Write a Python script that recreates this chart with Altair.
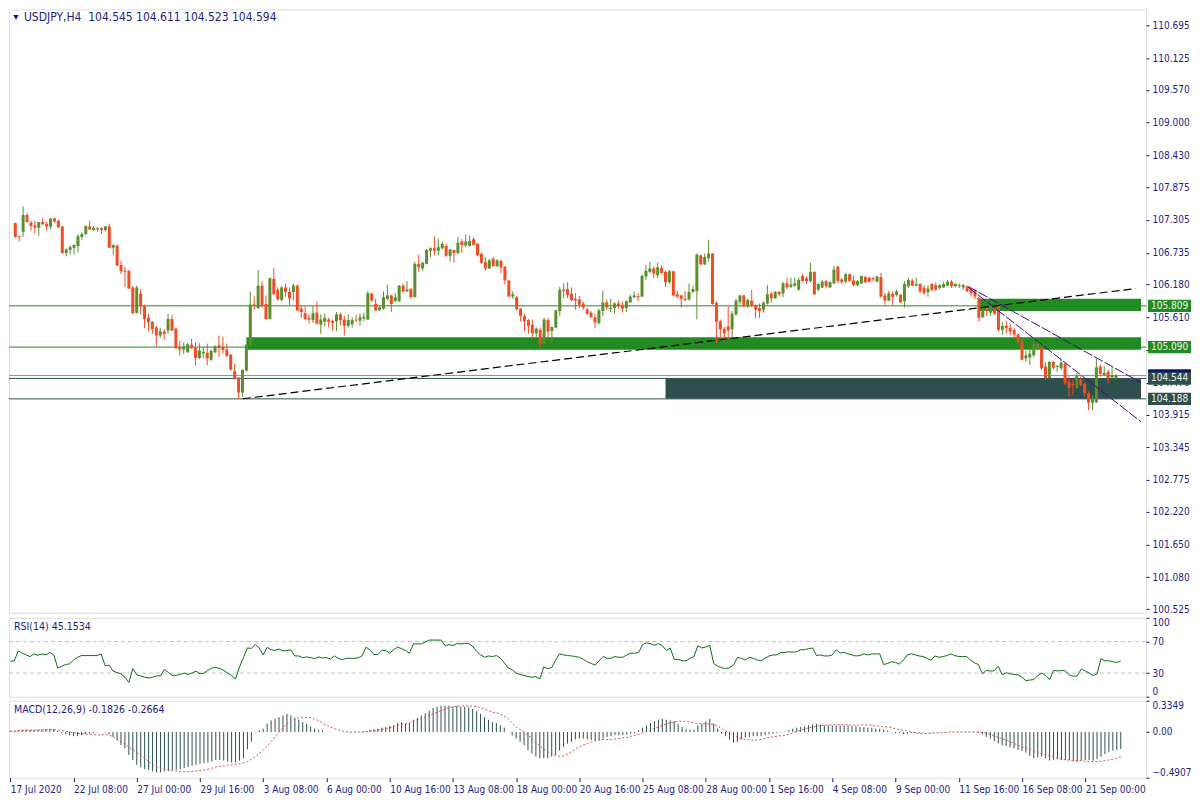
import altair as alt
import pandas as pd
import json

# ---------------- data ----------------
opens = [
 107.25, 107.03, 107.10, 107.39, 107.26, 107.21, 107.17, 107.27, 107.24, 107.19,
 107.33, 107.29, 107.19, 106.73, 106.78, 106.82, 106.85, 107.01, 107.06, 107.19,
 107.13, 107.15, 107.16, 107.13, 107.19, 106.82, 106.86, 106.52, 106.42, 106.42,
 106.13, 105.69, 106.02, 105.80, 105.60, 105.53, 105.43, 105.29, 105.36, 105.38,
 105.58, 105.41, 105.09, 105.05, 105.00, 105.13, 105.08, 104.90, 104.98, 104.99,
 104.87, 105.00, 105.12, 105.09, 105.05, 104.96, 104.67, 104.56, 104.30, 104.68,
 105.12, 105.83, 105.77, 106.16, 105.84, 105.58, 106.28, 106.09, 105.91, 106.13,
 106.05, 106.05, 106.16, 105.76, 105.68, 105.60, 105.56, 105.69, 105.48, 105.53,
 105.57, 105.54, 105.54, 105.66, 105.57, 105.46, 105.49, 105.57, 105.55, 105.59,
 105.57, 106.02, 105.84, 105.73, 105.76, 105.93, 105.99, 105.89, 105.89, 106.16,
 106.06, 106.10, 105.96, 106.54, 106.46, 106.54, 106.77, 106.81, 106.77, 106.81,
 106.85, 106.68, 106.78, 106.73, 106.93, 106.86, 106.85, 106.97, 106.89, 106.71,
 106.57, 106.46, 106.63, 106.50, 106.59, 106.49, 106.25, 105.97, 105.96, 105.76,
 105.63, 105.56, 105.48, 105.33, 105.39, 105.15, 105.56, 105.37, 105.43, 105.72,
 106.09, 106.10, 106.02, 105.93, 105.92, 105.85, 105.75, 105.69, 105.61, 105.51,
 105.72, 105.87, 105.76, 105.77, 105.85, 105.82, 105.77, 105.87, 105.96, 105.98,
 105.97, 106.32, 106.40, 106.46, 106.34, 106.47, 106.40, 106.22, 106.41, 106.01,
 105.99, 105.93, 105.92, 106.05, 106.07, 106.69, 106.53, 106.64, 106.72, 105.86,
 105.54, 105.41, 105.45, 105.40, 105.66, 105.88, 105.99, 105.80, 105.90, 105.82,
 105.77, 105.74, 105.85, 106.02, 105.94, 106.05, 106.02, 106.20, 106.14, 106.16,
 106.09, 106.33, 106.29, 106.24, 106.40, 106.09, 106.13, 106.24, 106.13, 106.20,
 106.49, 106.27, 106.23, 106.36, 106.25, 106.17, 106.20, 106.31, 106.30, 106.29,
 106.23, 106.31, 105.99, 105.90, 106.02, 106.00, 106.00, 105.89, 106.15, 106.25,
 106.16, 106.19, 106.12, 106.05, 106.19, 106.17, 106.12, 106.13, 106.16, 106.23,
 106.15, 106.17, 106.13, 106.15, 106.09, 106.06, 105.95, 105.61, 105.79, 105.69,
 105.77, 105.80, 105.39, 105.46, 105.43, 105.39, 105.31, 105.20, 104.89, 104.91,
 104.95, 105.06, 105.08, 104.75, 104.55, 104.83, 104.75, 104.72, 104.80, 104.49,
 104.45, 104.38, 104.52, 104.45, 104.29, 104.12, 104.13, 104.75, 104.60, 104.66,
 104.56, 104.545]

highs = [
 107.26, 107.03, 107.54, 107.43, 107.29, 107.29, 107.27, 107.34, 107.27, 107.34,
 107.35, 107.31, 107.20, 106.81, 106.86, 106.88, 107.06, 107.09, 107.21, 107.29,
 107.20, 107.18, 107.18, 107.20, 107.24, 106.88, 106.87, 106.60, 106.49, 106.43,
 106.16, 106.16, 106.10, 105.83, 105.67, 105.54, 105.46, 105.43, 105.40, 105.67,
 105.65, 105.43, 105.20, 105.17, 105.16, 105.23, 105.17, 105.16, 105.09, 105.15,
 105.05, 105.12, 105.29, 105.27, 105.15, 104.96, 104.80, 104.56, 104.70, 105.14,
 106.06, 105.97, 106.43, 106.24, 105.99, 106.30, 106.47, 106.13, 106.15, 106.20,
 106.13, 106.20, 106.18, 105.82, 105.80, 105.66, 105.80, 105.88, 105.66, 105.67,
 105.60, 105.57, 105.70, 105.69, 105.63, 105.66, 105.61, 105.65, 105.68, 105.69,
 106.07, 106.04, 105.93, 105.82, 106.06, 106.18, 106.00, 106.03, 106.17, 106.19,
 106.24, 106.12, 106.57, 106.70, 106.57, 106.80, 106.83, 107.02, 106.98, 106.93,
 106.89, 106.80, 106.79, 107.01, 106.97, 107.05, 107.03, 107.01, 106.90, 106.74,
 106.66, 106.63, 106.66, 106.62, 106.62, 106.50, 106.26, 106.06, 105.98, 105.77,
 105.67, 105.58, 105.57, 105.43, 105.43, 105.60, 105.60, 105.45, 105.74, 106.14,
 106.20, 106.22, 106.13, 106.03, 105.98, 105.88, 105.77, 105.72, 105.67, 105.76,
 106.07, 105.92, 105.93, 105.87, 105.90, 105.88, 105.90, 106.00, 106.06, 106.03,
 106.36, 106.52, 106.57, 106.49, 106.56, 106.52, 106.42, 106.43, 106.42, 106.07,
 106.00, 106.07, 106.20, 106.16, 106.72, 106.70, 106.72, 106.96, 106.73, 105.89,
 105.57, 105.44, 105.80, 105.72, 105.93, 106.00, 106.00, 105.93, 106.09, 105.83,
 105.85, 105.89, 106.17, 106.06, 106.07, 106.07, 106.23, 106.30, 106.30, 106.30,
 106.30, 106.37, 106.32, 106.56, 106.41, 106.20, 106.26, 106.26, 106.24, 106.51,
 106.51, 106.29, 106.38, 106.37, 106.33, 106.26, 106.33, 106.33, 106.32, 106.32,
 106.33, 106.38, 106.03, 106.07, 106.07, 106.09, 106.01, 106.24, 106.30, 106.28,
 106.30, 106.20, 106.17, 106.17, 106.20, 106.22, 106.19, 106.23, 106.26, 106.26,
 106.20, 106.20, 106.19, 106.16, 106.12, 106.11, 105.96, 105.77, 105.80, 105.83,
 105.80, 105.81, 105.53, 105.55, 105.50, 105.42, 105.33, 105.23, 105.03, 105.09,
 105.18, 105.20, 105.10, 104.83, 104.85, 104.85, 104.78, 104.89, 104.82, 104.58,
 104.53, 104.64, 104.58, 104.47, 104.32, 104.26, 104.89, 104.79, 104.76, 104.69,
 104.74, 104.611]

lows = [
 107.00, 106.93, 107.01, 107.26, 107.12, 107.06, 107.03, 107.22, 107.12, 107.14,
 107.26, 107.17, 106.72, 106.67, 106.70, 106.70, 106.74, 106.96, 107.04, 107.13,
 107.11, 107.10, 107.06, 107.11, 106.81, 106.70, 106.50, 106.36, 106.14, 106.10,
 105.67, 105.67, 105.66, 105.42, 105.36, 105.32, 105.10, 105.25, 105.21, 105.32,
 105.37, 105.06, 104.94, 104.97, 104.99, 105.06, 104.77, 104.88, 104.89, 104.77,
 104.85, 104.98, 104.92, 104.97, 104.92, 104.68, 104.53, 104.19, 104.23, 104.66,
 105.10, 105.74, 105.76, 105.78, 105.57, 105.57, 106.00, 105.90, 105.89, 105.97,
 105.82, 105.90, 105.72, 105.60, 105.56, 105.50, 105.51, 105.48, 105.32, 105.45,
 105.44, 105.37, 105.37, 105.47, 105.29, 105.43, 105.43, 105.52, 105.46, 105.54,
 105.56, 105.88, 105.72, 105.72, 105.74, 105.91, 105.70, 105.87, 105.87, 106.03,
 106.05, 105.94, 105.96, 106.40, 106.42, 106.53, 106.66, 106.69, 106.69, 106.79,
 106.66, 106.58, 106.56, 106.71, 106.73, 106.83, 106.84, 106.86, 106.67, 106.54,
 106.42, 106.45, 106.49, 106.48, 106.38, 106.18, 105.96, 105.93, 105.73, 105.54,
 105.37, 105.32, 105.26, 105.26, 105.08, 105.12, 105.26, 105.15, 105.42, 105.63,
 105.94, 105.94, 105.89, 105.74, 105.77, 105.74, 105.66, 105.60, 105.42, 105.48,
 105.63, 105.74, 105.70, 105.67, 105.76, 105.69, 105.70, 105.86, 105.94, 105.89,
 105.96, 106.26, 106.38, 106.30, 106.29, 106.37, 106.14, 106.20, 105.97, 105.94,
 105.78, 105.89, 105.90, 106.03, 105.57, 106.52, 106.52, 106.58, 105.83, 105.17,
 105.23, 105.20, 105.24, 105.23, 105.64, 105.83, 105.78, 105.77, 105.78, 105.59,
 105.60, 105.69, 105.83, 105.86, 105.93, 105.97, 105.96, 106.10, 106.12, 106.14,
 106.07, 106.23, 106.19, 106.22, 106.00, 106.06, 106.12, 106.11, 106.12, 106.19,
 106.20, 106.19, 106.20, 106.23, 106.15, 106.15, 106.19, 106.20, 106.22, 106.24,
 106.22, 105.95, 105.83, 105.89, 105.82, 105.97, 105.86, 105.78, 106.12, 106.15,
 106.15, 106.03, 106.00, 105.97, 106.06, 106.07, 106.09, 106.12, 106.15, 106.12,
 106.13, 106.12, 106.09, 106.05, 105.97, 105.92, 105.53, 105.60, 105.63, 105.63,
 105.65, 105.36, 105.30, 105.33, 105.29, 105.26, 105.15, 104.86, 104.83, 104.78,
 104.92, 105.03, 104.69, 104.52, 104.53, 104.70, 104.66, 104.69, 104.43, 104.23,
 104.26, 104.36, 104.41, 104.23, 103.99, 103.99, 104.12, 104.58, 104.59, 104.46,
 104.53, 104.523]

closes = [
 107.01, 107.02, 107.39, 107.27, 107.20, 107.17, 107.27, 107.23, 107.19, 107.33,
 107.28, 107.18, 106.73, 106.79, 106.83, 106.87, 107.02, 107.06, 107.20, 107.14,
 107.17, 107.16, 107.13, 107.19, 106.82, 106.87, 106.51, 106.41, 106.41, 106.11,
 105.68, 106.13, 105.80, 105.58, 105.52, 105.40, 105.29, 105.36, 105.32, 105.58,
 105.38, 105.07, 105.05, 105.10, 105.14, 105.07, 104.90, 105.03, 105.01, 104.89,
 105.02, 105.10, 105.07, 105.04, 104.94, 104.70, 104.53, 104.30, 104.69, 105.13,
 105.83, 105.80, 106.16, 105.80, 105.58, 106.29, 106.01, 105.92, 106.13, 106.05,
 105.94, 106.16, 105.73, 105.70, 105.58, 105.57, 105.68, 105.50, 105.57, 105.60,
 105.53, 105.51, 105.66, 105.56, 105.46, 105.56, 105.56, 105.56, 105.61, 105.62,
 106.03, 105.90, 105.73, 105.78, 105.96, 105.99, 105.84, 105.96, 106.16, 106.06,
 106.09, 105.96, 106.54, 106.48, 106.56, 106.78, 106.81, 106.77, 106.83, 106.89,
 106.68, 106.79, 106.73, 106.91, 106.87, 106.93, 106.94, 106.87, 106.69, 106.56,
 106.46, 106.60, 106.50, 106.60, 106.48, 106.25, 105.97, 106.01, 105.75, 105.63,
 105.54, 105.46, 105.33, 105.41, 105.15, 105.57, 105.36, 105.44, 105.73, 106.09,
 106.07, 106.00, 105.91, 105.90, 105.83, 105.78, 105.67, 105.61, 105.52, 105.73,
 105.87, 105.78, 105.77, 105.85, 105.80, 105.76, 105.89, 105.97, 105.99, 105.97,
 106.33, 106.42, 106.46, 106.37, 106.48, 106.38, 106.22, 106.41, 105.99, 105.97,
 105.93, 105.91, 106.05, 106.10, 106.70, 106.53, 106.66, 106.72, 105.84, 105.53,
 105.40, 105.33, 105.38, 105.67, 105.90, 105.99, 105.80, 105.91, 105.81, 105.74,
 105.72, 105.86, 106.01, 105.94, 106.05, 106.01, 106.20, 106.13, 106.18, 106.20,
 106.26, 106.24, 106.24, 106.40, 106.01, 106.19, 106.23, 106.15, 106.22, 106.44,
 106.24, 106.22, 106.36, 106.24, 106.17, 106.24, 106.33, 106.22, 106.23, 106.27,
 106.32, 105.97, 105.90, 106.03, 105.96, 106.06, 105.87, 106.19, 106.26, 106.16,
 106.19, 106.06, 106.03, 106.11, 106.09, 106.09, 106.17, 106.19, 106.23, 106.15,
 106.19, 106.15, 106.17, 106.06, 106.03, 105.97, 105.60, 105.75, 105.72, 105.79,
 105.67, 105.39, 105.46, 105.42, 105.36, 105.31, 105.18, 104.87, 104.95, 104.98,
 105.15, 105.15, 104.72, 104.55, 104.83, 104.73, 104.76, 104.82, 104.46, 104.38,
 104.43, 104.59, 104.43, 104.28, 104.12, 104.20, 104.74, 104.62, 104.64, 104.55,
 104.60, 104.594]

rsi = [
 45.2, 45.2, 58.3, 55.2, 53.0, 50.9, 54.3, 52.6, 54.3, 53.0,
 56.1, 53.0, 36.5, 38.7, 40.8, 41.7, 46.5, 50.0, 52.2, 52.2,
 52.2, 52.2, 52.2, 54.3, 39.1, 40.0, 32.6, 30.8, 29.1, 24.7,
 18.2, 35.6, 27.8, 26.5, 24.7, 23.8, 24.7, 26.5, 26.5, 34.7,
 30.8, 26.9, 27.3, 28.2, 30.0, 28.2, 30.0, 32.6, 29.1, 30.0,
 33.4, 36.5, 36.9, 36.0, 33.4, 30.0, 26.9, 22.5, 37.8, 49.6,
 61.8, 61.3, 66.1, 61.8, 53.0, 62.6, 59.6, 58.7, 60.4, 58.3,
 58.3, 59.6, 51.7, 51.7, 49.6, 50.4, 49.6, 48.2, 50.4, 49.1,
 49.6, 47.8, 51.7, 48.7, 46.9, 48.7, 48.7, 48.7, 49.1, 51.7,
 62.6, 59.6, 53.5, 53.5, 58.7, 58.7, 55.2, 59.6, 63.1, 60.9,
 58.7, 55.2, 67.0, 67.0, 67.0, 69.2, 71.8, 71.8, 71.8, 71.8,
 64.8, 66.1, 64.8, 67.4, 67.0, 67.4, 67.4, 63.9, 57.4, 53.0,
 50.0, 51.7, 50.9, 52.2, 48.7, 43.0, 36.5, 34.3, 30.0, 28.2,
 26.9, 25.6, 24.7, 25.6, 22.5, 37.8, 35.6, 36.9, 46.5, 54.3,
 53.0, 52.2, 51.7, 50.9, 50.0, 47.4, 44.3, 42.2, 40.0, 45.6,
 50.9, 48.7, 48.7, 50.9, 50.0, 50.0, 53.0, 55.2, 55.2, 56.1,
 66.1, 68.3, 67.4, 65.2, 67.4, 64.8, 58.7, 61.8, 47.4, 47.4,
 45.6, 45.6, 48.7, 50.9, 64.8, 61.8, 63.1, 65.2, 42.2, 38.7,
 36.9, 35.6, 36.9, 40.0, 50.0, 48.7, 46.5, 50.0, 48.7, 46.5,
 45.6, 48.7, 51.7, 53.0, 53.0, 56.1, 56.1, 57.0, 56.5, 57.0,
 59.6, 59.6, 60.9, 61.8, 52.2, 53.0, 51.7, 51.7, 53.0, 59.6,
 55.2, 56.5, 54.3, 53.0, 51.7, 52.2, 54.3, 53.0, 54.3, 54.3,
 54.3, 40.8, 42.2, 44.3, 43.5, 41.3, 46.5, 53.0, 54.3, 53.0,
 51.7, 50.9, 48.7, 46.5, 51.7, 50.0, 50.9, 52.2, 54.3, 52.2,
 50.9, 50.9, 50.9, 46.5, 43.0, 40.8, 29.1, 33.4, 32.6, 33.0,
 38.7, 27.8, 30.4, 29.1, 28.2, 27.8, 24.7, 20.4, 21.2, 21.7,
 26.9, 30.0, 26.9, 21.7, 33.4, 32.6, 33.4, 32.6, 27.8, 26.0,
 26.5, 35.2, 32.6, 30.0, 26.9, 29.1, 48.2, 45.6, 45.6, 44.3,
 43.5, 45.15]

macd_hist = [
 0.011, 0.011, 0.018, 0.025, 0.025, 0.025, 0.025, 0.028, 0.028, 0.032,
 0.035, 0.032, 0.011, -0.011, -0.025, -0.035, -0.046, -0.046, -0.035, -0.025,
 -0.018, -0.011, -0.004, 0.000, -0.007, -0.025, -0.053, -0.088, -0.141, -0.176,
 -0.247, -0.300, -0.353, -0.377, -0.399, -0.406, -0.423, -0.434, -0.434, -0.423,
 -0.423, -0.413, -0.406, -0.399, -0.388, -0.377, -0.363, -0.353, -0.342, -0.335,
 -0.328, -0.318, -0.300, -0.300, -0.307, -0.318, -0.328, -0.328, -0.307, -0.282,
 -0.187, -0.106, -0.004, 0.018, 0.035, 0.088, 0.124, 0.141, 0.159, 0.176,
 0.194, 0.176, 0.152, 0.131, 0.106, 0.088, 0.060, 0.035, 0.018, 0.018,
 0.000, -0.004, 0.000, 0.000, 0.000, 0.000, -0.004, -0.004, 0.000, -0.004,
 0.011, 0.025, 0.032, 0.035, 0.046, 0.053, 0.064, 0.071, 0.095, 0.106,
 0.088, 0.095, 0.131, 0.152, 0.176, 0.201, 0.229, 0.258, 0.272, 0.282,
 0.282, 0.282, 0.272, 0.282, 0.272, 0.272, 0.265, 0.247, 0.222, 0.194,
 0.159, 0.131, 0.106, 0.095, 0.071, 0.046, 0.000, -0.035, -0.071, -0.106,
 -0.141, -0.194, -0.229, -0.265, -0.282, -0.282, -0.282, -0.265, -0.247, -0.201,
 -0.159, -0.124, -0.106, -0.081, -0.071, -0.071, -0.081, -0.088, -0.099, -0.088,
 -0.071, -0.053, -0.046, -0.035, -0.035, -0.035, -0.028, -0.018, -0.011, 0.018,
 0.046, 0.071, 0.095, 0.116, 0.131, 0.141, 0.131, 0.124, 0.116, 0.088,
 0.053, 0.035, 0.025, 0.025, 0.071, 0.088, 0.113, 0.141, 0.088, 0.035,
 -0.018, -0.046, -0.081, -0.116, -0.106, -0.081, -0.060, -0.053, -0.046, -0.046,
 -0.046, -0.035, -0.025, -0.018, -0.011, -0.004, 0.004, 0.018, 0.035, 0.046,
 0.053, 0.060, 0.071, 0.081, 0.088, 0.078, 0.071, 0.071, 0.071, 0.071,
 0.071, 0.071, 0.071, 0.064, 0.060, 0.053, 0.053, 0.046, 0.046, 0.035,
 0.035, 0.025, 0.011, -0.004, -0.011, -0.011, -0.025, -0.018, -0.011, -0.011,
 -0.011, -0.007, -0.002, -0.007, -0.002, -0.007, -0.002, 0.002, 0.002, 0.002,
 0.002, 0.002, 0.002, -0.002, -0.002, -0.011, -0.025, -0.053, -0.071, -0.099,
 -0.124, -0.141, -0.152, -0.166, -0.176, -0.194, -0.205, -0.222, -0.258, -0.282,
 -0.272, -0.265, -0.282, -0.307, -0.300, -0.293, -0.300, -0.300, -0.300, -0.307,
 -0.318, -0.307, -0.300, -0.300, -0.307, -0.293, -0.265, -0.236, -0.212, -0.201,
 -0.194, -0.1826]

macd_signal = [
 0.011, 0.011, 0.014, 0.014, 0.018, 0.018, 0.018, 0.021, 0.021, 0.021,
 0.025, 0.025, 0.021, 0.014, 0.007, 0.000, -0.007, -0.014, -0.018, -0.021,
 -0.025, -0.028, -0.032, -0.032, -0.028, -0.032, -0.053, -0.078, -0.106, -0.131,
 -0.159, -0.190, -0.222, -0.250, -0.282, -0.318, -0.353, -0.370, -0.388, -0.399,
 -0.406, -0.413, -0.420, -0.423, -0.427, -0.427, -0.423, -0.420, -0.413, -0.406,
 -0.399, -0.388, -0.377, -0.370, -0.363, -0.356, -0.353, -0.346, -0.342, -0.332,
 -0.318, -0.293, -0.265, -0.229, -0.194, -0.152, -0.106, -0.053, 0.000, 0.046,
 0.088, 0.116, 0.141, 0.152, 0.159, 0.155, 0.152, 0.138, 0.124, 0.095,
 0.071, 0.053, 0.035, 0.021, 0.011, 0.004, 0.000, 0.000, 0.000, 0.000,
 0.004, 0.007, 0.011, 0.018, 0.025, 0.035, 0.046, 0.056, 0.071, 0.081,
 0.088, 0.102, 0.116, 0.131, 0.141, 0.159, 0.176, 0.194, 0.212, 0.229,
 0.247, 0.261, 0.272, 0.275, 0.279, 0.279, 0.279, 0.275, 0.272, 0.261,
 0.247, 0.229, 0.212, 0.205, 0.194, 0.169, 0.141, 0.095, 0.053, 0.025,
 0.000, -0.035, -0.071, -0.113, -0.152, -0.183, -0.212, -0.236, -0.258, -0.261,
 -0.258, -0.236, -0.212, -0.187, -0.159, -0.141, -0.124, -0.109, -0.095, -0.088,
 -0.081, -0.081, -0.081, -0.074, -0.071, -0.064, -0.060, -0.046, -0.035, -0.025,
 -0.011, 0.007, 0.025, 0.039, 0.053, 0.071, 0.088, 0.099, 0.106, 0.113,
 0.116, 0.113, 0.106, 0.099, 0.088, 0.088, 0.088, 0.085, 0.081, 0.060,
 0.035, 0.011, -0.011, -0.035, -0.060, -0.071, -0.081, -0.085, -0.088, -0.085,
 -0.081, -0.071, -0.060, -0.053, -0.046, -0.039, -0.035, -0.025, -0.011, 0.004,
 0.018, 0.032, 0.046, 0.053, 0.060, 0.067, 0.071, 0.074, 0.078, 0.078,
 0.078, 0.078, 0.078, 0.074, 0.071, 0.074, 0.078, 0.074, 0.071, 0.067,
 0.060, 0.056, 0.053, 0.046, 0.035, 0.025, 0.018, 0.011, 0.000, -0.011,
 -0.018, -0.018, -0.018, -0.014, -0.011, -0.011, -0.007, -0.004, 0.000, 0.000,
 0.000, 0.000, 0.000, 0.000, 0.000, 0.000, -0.004, -0.011, -0.025, -0.046,
 -0.060, -0.071, -0.088, -0.106, -0.124, -0.141, -0.159, -0.176, -0.187, -0.201,
 -0.219, -0.236, -0.247, -0.258, -0.272, -0.282, -0.293, -0.300, -0.303, -0.307,
 -0.307, -0.307, -0.314, -0.318, -0.318, -0.318, -0.314, -0.307, -0.300, -0.293,
 -0.282, -0.2664]

tick_idx = [0, 16, 32, 48, 64, 80, 96, 112, 128, 144, 160, 176, 192, 208, 224, 240, 256, 272]
tick_labels = ["17 Jul 2020", "22 Jul 08:00", "27 Jul 00:00", "29 Jul 16:00", "3 Aug 08:00",
               "6 Aug 00:00", "10 Aug 16:00", "13 Aug 08:00", "18 Aug 00:00", "20 Aug 16:00",
               "25 Aug 08:00", "28 Aug 00:00", "1 Sep 16:00", "4 Sep 08:00", "9 Sep 00:00",
               "11 Sep 16:00", "16 Sep 08:00", "21 Sep 00:00"]
price_ticks = [110.695, 110.125, 109.570, 109.000, 108.430, 107.875, 107.305, 106.735,
               106.180, 105.610, 105.040, 104.470, 103.915, 103.345, 102.775, 102.220,
               101.650, 101.080, 100.525]

level_prices = [105.809, 105.090, 104.544, 104.188, 104.594]
level_colors = ["#228b22", "#228b22", "#2f4f4f", "#2f4f4f", "#8392a8"]

zone_start = [59, 246, 166]
zone_low = [105.044, 105.718, 104.188]
zone_high = [105.261, 105.934, 104.544]
zone_colors = ["#228b22", "#228b22", "#2f4f4f"]

trend_bar = [58.1, 286.0]
trend_price = [104.19, 106.11]
chan_line = ["a", "a", "b", "b"]
chan_bar = [243.3, 287.4, 243.3, 287.4]
chan_price = [106.145, 104.47, 106.13, 103.79]

# price tags on the right scale (bid tag first, drawn underneath)
tag_prices = [104.594, 105.809, 105.090, 104.544, 104.188]
tag_colors = ["#14146e", "#228b22", "#228b22", "#2f4f4f", "#2f4f4f"]
tag_texts = ["", "105.809", "105.090", "104.544", "104.188"]

rsi_levels = [30, 70]

# ---------------- styling ----------------
NAVY = "#16167a"
TXT = "#1d1d86"
UP = "#5a8f2c"
DOWN = "#f24c24"
FONT = "DejaVu Sans Condensed, DejaVu Sans"
W = 1138
H_MAIN, H_RSI, H_MACD = 604, 79, 77
XMIN, XMAX = -0.33, 287.4

N = len(closes)
df = pd.DataFrame({"i": list(range(N)), "open": opens, "high": highs, "low": lows, "close": closes})
df["dir"] = ["up" if c >= o else "down" for o, c in zip(opens, closes)]
df["bhi"] = df[["open", "close"]].max(axis=1)
df["blo"] = df[["open", "close"]].min(axis=1)
df.loc[(df["bhi"] - df["blo"]) < 0.017, "blo"] = df["bhi"] - 0.017

xs = alt.Scale(domain=[XMIN, XMAX], nice=False, zero=False)
X = alt.X("i:Q", scale=xs, axis=None)
ys = alt.Scale(domain=[100.46, 110.975], nice=False, zero=False)
yaxis = alt.Axis(values=price_ticks, format=".3f", orient="right", title=None, grid=False,
                 domain=False, tickSize=3, tickColor=NAVY, labelColor=TXT, labelFont=FONT,
                 labelFontSize=10, labelPadding=3)
ccol = alt.Color("dir:N", scale=alt.Scale(domain=["up", "down"], range=[UP, DOWN]), legend=None)

levels = pd.DataFrame({"p": level_prices, "c": level_colors})
rules = alt.Chart(levels).mark_rule(strokeWidth=1).encode(
    y=alt.Y("p:Q", scale=ys, axis=yaxis), color=alt.Color("c:N", scale=None))

zones = pd.DataFrame({"x1": zone_start, "x2": [XMAX] * 3, "lo": zone_low, "hi": zone_high, "c": zone_colors})
rects = alt.Chart(zones).mark_rect(clip=True).encode(
    x=alt.X("x1:Q", scale=xs, axis=None), x2="x2:Q",
    y=alt.Y("hi:Q", scale=ys, axis=yaxis), y2="lo:Q", color=alt.Color("c:N", scale=None))

wicks = alt.Chart(df).mark_rule(clip=True, strokeWidth=1).encode(
    x=X, y=alt.Y("low:Q", scale=ys, axis=yaxis), y2="high:Q", color=ccol)
bodies = alt.Chart(df).mark_bar(clip=True, size=3).encode(
    x=X, y=alt.Y("blo:Q", scale=ys, axis=yaxis), y2="bhi:Q", color=ccol)

trend = alt.Chart(pd.DataFrame({"i": trend_bar, "p": trend_price})).mark_line(
    clip=True, color="#000000", strokeWidth=1.2, strokeDash=[8, 4]).encode(
    x=X, y=alt.Y("p:Q", scale=ys, axis=yaxis))
chan = alt.Chart(pd.DataFrame({"l": chan_line, "i": chan_bar, "p": chan_price})).mark_line(
    clip=True, color="#4b0082", strokeWidth=1, strokeDash=[10, 2]).encode(
    x=X, y=alt.Y("p:Q", scale=ys, axis=yaxis), detail="l:N")

tags = pd.DataFrame({"p": tag_prices, "c": tag_colors, "t": tag_texts, "o": list(range(len(tag_prices)))})
tag_box = alt.Chart(tags).transform_calculate(top="datum.p + 0.108", bot="datum.p - 0.108").mark_rect(
    clip=False).encode(x=alt.value(W + 2), x2=alt.value(W + 45),
                       y=alt.Y("top:Q", scale=ys, axis=yaxis), y2="bot:Q",
                       color=alt.Color("c:N", scale=None), order="o:Q")
tag_txt = alt.Chart(tags).mark_text(clip=False, align="center", baseline="middle", color="#eef6ee",
                                    font=FONT, fontSize=10).encode(
    x=alt.value(W + 23.5), y=alt.Y("p:Q", scale=ys, axis=yaxis), text="t:N")

hdr = alt.Chart(pd.DataFrame({"t": ["USDJPY,H4\u00a0 104.545 104.611 104.523 104.594"]})).mark_text(
    align="left", baseline="middle", color=TXT, font=FONT, fontSize=12).encode(
    x=alt.value(15), y=alt.value(8), text="t:N")
tri = alt.Chart(pd.DataFrame({"t": ["v"]})).mark_point(
    shape="triangle-down", filled=True, size=30, color=NAVY, opacity=1).encode(
    x=alt.value(7), y=alt.value(8))

main = alt.layer(rects, rules, wicks, bodies, trend, chan, tag_box, tag_txt, hdr, tri).properties(
    width=W, height=H_MAIN)

# ---------------- RSI ----------------
rdf = pd.DataFrame({"i": list(range(N)), "rsi": rsi})
rys = alt.Scale(domain=[0, 100], nice=False, zero=False)
raxis = alt.Axis(values=[0, 30, 70, 100], orient="right", title=None, grid=False, domain=False,
                 tickSize=3, tickColor=NAVY, labelColor=TXT, labelFont=FONT, labelFontSize=10,
                 labelFlush=True, labelPadding=3)
rlev = alt.Chart(pd.DataFrame({"v": rsi_levels})).mark_rule(
    color="#c4c4c4", strokeDash=[4, 3], strokeWidth=1).encode(y=alt.Y("v:Q", scale=rys, axis=raxis))
rline = alt.Chart(rdf).mark_line(color="#0b6e12", strokeWidth=1, clip=True).encode(
    x=X, y=alt.Y("rsi:Q", scale=rys, axis=raxis))
rtxt = alt.Chart(pd.DataFrame({"t": ["RSI(14) 45.1534"]})).mark_text(
    align="left", baseline="middle", color=TXT, font=FONT, fontSize=10.5).encode(
    x=alt.value(5), y=alt.value(9), text="t:N")
rsi_panel = alt.layer(rlev, rline, rtxt).properties(width=W, height=H_RSI)

# ---------------- MACD ----------------
mdf = pd.DataFrame({"i": list(range(N)), "h": macd_hist, "s": macd_signal})
mys = alt.Scale(domain=[-0.4907, 0.3349], nice=False, zero=False)
maxis = alt.Axis(values=[-0.4907, 0, 0.3349], orient="right", title=None, grid=False, domain=False,
                 tickSize=3, tickColor=NAVY, labelColor=TXT, labelFont=FONT, labelFontSize=10,
                 labelFlush=True, labelPadding=3,
                 labelExpr="datum.value == 0 ? '0.00' : format(datum.value, '.4f')")
xaxis = alt.Axis(values=tick_idx, orient="bottom", title=None, grid=False, domain=False,
                 tickSize=4, tickColor=NAVY, labelColor=TXT, labelFont=FONT, labelFontSize=10,
                 labelAlign="left", labelPadding=3, labelOverlap=False, labelFlush=False,
                 labelBound=False,
                 labelExpr=f"{json.dumps(tick_labels)}[indexof({json.dumps(tick_idx)}, datum.value)]")
XM = alt.X("i:Q", scale=xs, axis=xaxis)
hist = alt.Chart(mdf).mark_rule(color="#2f4f4f", strokeWidth=1, clip=True).encode(
    x=XM, y=alt.Y("h:Q", scale=mys, axis=maxis), y2=alt.datum(0))
sig = alt.Chart(mdf).mark_line(color="#e0524a", strokeWidth=1, strokeDash=[2, 2], clip=True).encode(
    x=XM, y=alt.Y("s:Q", scale=mys, axis=maxis))
mtxt = alt.Chart(pd.DataFrame({"t": ["MACD(12,26,9) -0.1826 -0.2664"]})).mark_text(
    align="left", baseline="middle", color=TXT, font=FONT, fontSize=10.5).encode(
    x=alt.value(5), y=alt.value(9), text="t:N")
macd_panel = alt.layer(hist, sig, mtxt).properties(width=W, height=H_MACD)

chart = alt.vconcat(main, rsi_panel, macd_panel, spacing=2,
                    padding={"left": 0, "top": 0, "right": 0, "bottom": 0}).configure_view(
    stroke=NAVY, strokeWidth=1).configure(background="white")

chart.save("out.html", embed_options={"renderer": "svg", "actions": False})
